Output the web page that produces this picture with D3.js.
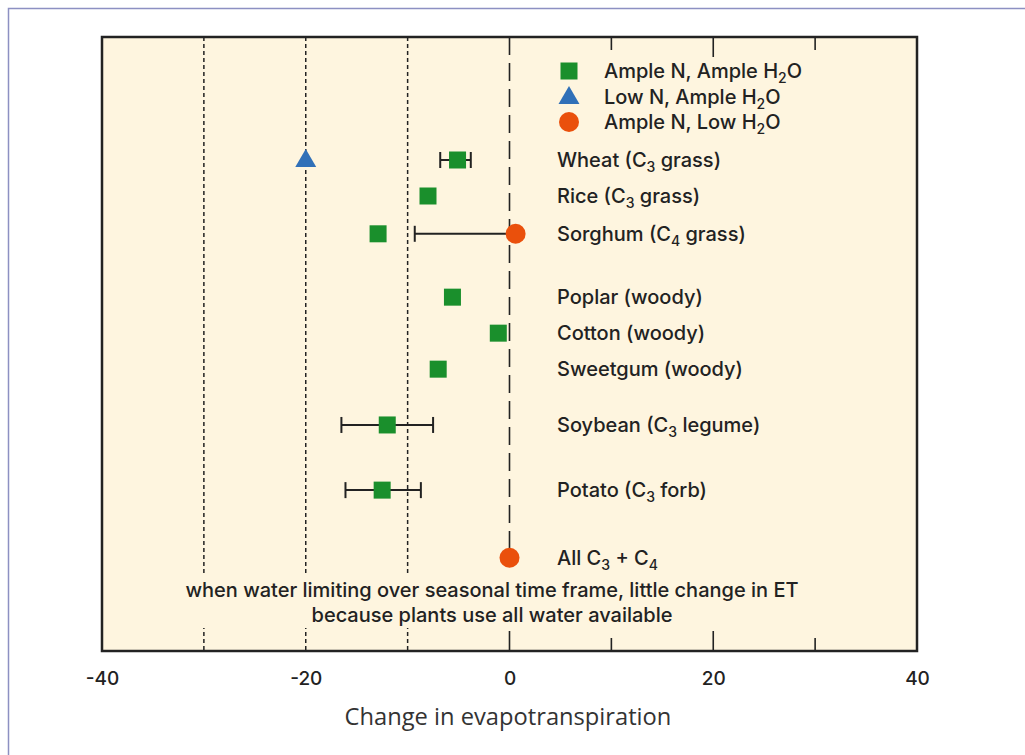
<!DOCTYPE html>
<html>
<head>
<meta charset="utf-8">
<script src="https://cdn.jsdelivr.net/npm/d3@7"></script>
<style>
  body { margin: 0; background: #fff; }
  svg { display: block; }
</style>
</head>
<body>
<svg id="chart"></svg>
<script>
// crops, top to bottom
const crops = ["Wheat", "Rice", "Sorghum", "Poplar", "Cotton", "Sweetgum", "Soybean", "Potato", "All"];
const cropLabels = [
  ["Wheat (C", "3", " grass)"],
  ["Rice (C", "3", " grass)"],
  ["Sorghum (C", "4", " grass)"],
  ["Poplar (woody)"],
  ["Cotton (woody)"],
  ["Sweetgum (woody)"],
  ["Soybean (C", "3", " legume)"],
  ["Potato (C", "3", " forb)"],
  ["All C", "3", " + C", "4"]
];

// Ample N, Ample H2O (squares)
const ampleAmple = [
  {crop: "Wheat", v: -5.1, lo: -6.8, hi: -3.8},
  {crop: "Rice", v: -8.0},
  {crop: "Sorghum", v: -12.9},
  {crop: "Poplar", v: -5.6},
  {crop: "Cotton", v: -1.1},
  {crop: "Sweetgum", v: -7.0},
  {crop: "Soybean", v: -12.0, lo: -16.5, hi: -7.5},
  {crop: "Potato", v: -12.5, lo: -16.1, hi: -8.7}
];
// Low N, Ample H2O (triangles)
const lowAmple = [
  {crop: "Wheat", v: -20}
];
// Ample N, Low H2O (circles)
const ampleLow = [
  {crop: "Sorghum", v: 0.6, lo: -9.3, hi: 0.6},
  {crop: "All", v: 0}
];

const xTicks = [-40, -20, 0, 20, 40];
const gridDotted = [-30, -20, -10];
const innerTicks = [0, 10, 20, 30];

const legendItems = ["Ample N, Ample H", "Low N, Ample H", "Ample N, Low H"];
const note = ["when water limiting over seasonal time frame, little change in ET",
              "because plants use all water available"];

// layout
const W = 1025, H = 755;
const pLeft = 102, pRight = 917, pTop = 37, pBottom = 651;
const rowSlots = [0, 1, 2.05, 3.81, 4.81, 5.81, 7.36, 9.17, 11.05];

const green = "#1a8f2c", blue = "#3070b8", orange = "#ea500c";
const bg = "#fef5df", ink = "#222";
const font = "Inter, 'Liberation Sans', Arial, sans-serif";
const fs = 20, fsSub = 14;

const svg = d3.select("#chart").attr("width", W).attr("height", H);

// page border
svg.append("path")
  .attr("d", `M8.5,${H} V8.5 H${W}`)
  .attr("fill", "none").attr("stroke", "#8d90c2").attr("stroke-width", 1.5);

const x = d3.scaleLinear().domain([-40, 40]).range([pLeft, pRight]);
const y = d3.scaleLinear().domain([0, 1]).range([160, 196]);
const yc = c => y(rowSlots[crops.indexOf(c)]);

svg.append("rect")
  .attr("x", pLeft).attr("y", pTop).attr("width", pRight - pLeft).attr("height", pBottom - pTop)
  .attr("fill", bg);

// grid
svg.selectAll(".grid").data(gridDotted).enter().append("line")
  .attr("x1", d => x(d)).attr("x2", d => x(d))
  .attr("y1", pTop).attr("y2", pBottom)
  .attr("stroke", ink).attr("stroke-width", 1.5).attr("stroke-dasharray", "4,3");

svg.append("line")
  .attr("x1", x(0)).attr("x2", x(0)).attr("y1", pTop).attr("y2", 548)
  .attr("stroke", ink).attr("stroke-width", 1.6).attr("stroke-dasharray", "18,8");

// note box covering grid
svg.append("rect")
  .attr("x", 175).attr("y", 574).attr("width", 636).attr("height", 54)
  .attr("fill", bg);

svg.selectAll(".note").data(note).enter().append("text")
  .attr("x", 492).attr("y", (d, i) => 597 + i * 25)
  .attr("text-anchor", "middle")
  .attr("font-family", font).attr("font-weight", 500).attr("font-size", fs).attr("fill", ink)
  .text(d => d);

// inner ticks top and bottom
svg.selectAll(".tb").data(innerTicks).enter().append("line")
  .attr("x1", d => x(d)).attr("x2", d => x(d))
  .attr("y1", d => pBottom - (d % 20 === 0 ? 20 : 13)).attr("y2", pBottom)
  .attr("stroke", ink).attr("stroke-width", 1.6);
svg.selectAll(".tt").data(innerTicks.filter(d => d !== 0)).enter().append("line")
  .attr("x1", d => x(d)).attr("x2", d => x(d))
  .attr("y1", pTop).attr("y2", d => pTop + (d % 20 === 0 ? 20 : 13))
  .attr("stroke", ink).attr("stroke-width", 1.6);

// frame
svg.append("rect")
  .attr("x", pLeft).attr("y", pTop).attr("width", pRight - pLeft).attr("height", pBottom - pTop)
  .attr("fill", "none").attr("stroke", ink).attr("stroke-width", 2.5);

// x axis labels
const axis = svg.append("g").attr("transform", `translate(0,${pBottom})`)
  .call(d3.axisBottom(x).tickValues(xTicks).tickSize(0).tickPadding(21).tickFormat(d3.format("d")));
axis.select(".domain").remove();
axis.selectAll("text")
  .attr("font-family", font).attr("font-weight", 500).attr("font-size", 19).attr("fill", ink)
  .text(d => d < 0 ? "-" + Math.abs(d) : d);

svg.append("text")
  .attr("x", 508).attr("y", 725).attr("text-anchor", "middle")
  .attr("font-family", "'Open Sans', 'DejaVu Sans', sans-serif").attr("font-size", 23.7)
  .attr("fill", "#333")
  .text("Change in evapotranspiration");

// error bars
const withErr = ampleAmple.concat(ampleLow).filter(d => d.lo !== undefined);
const eb = svg.selectAll(".err").data(withErr).enter().append("g");
eb.append("line")
  .attr("x1", d => x(d.lo)).attr("x2", d => x(d.hi))
  .attr("y1", d => yc(d.crop)).attr("y2", d => yc(d.crop))
  .attr("stroke", ink).attr("stroke-width", 2);
eb.append("line")
  .attr("x1", d => x(d.lo)).attr("x2", d => x(d.lo))
  .attr("y1", d => yc(d.crop) - 8).attr("y2", d => yc(d.crop) + 8)
  .attr("stroke", ink).attr("stroke-width", 2);
eb.filter(d => d.hi !== d.v).append("line")
  .attr("x1", d => x(d.hi)).attr("x2", d => x(d.hi))
  .attr("y1", d => yc(d.crop) - 8).attr("y2", d => yc(d.crop) + 8)
  .attr("stroke", ink).attr("stroke-width", 2);

// marks
const sq = 17;
const tri = d3.symbol().type(d3.symbolTriangle).size(190);
svg.selectAll(".sq").data(ampleAmple).enter().append("rect")
  .attr("x", d => x(d.v) - sq / 2).attr("y", d => yc(d.crop) - sq / 2)
  .attr("width", sq).attr("height", sq).attr("fill", green);
svg.selectAll(".tri").data(lowAmple).enter().append("path")
  .attr("d", tri)
  .attr("transform", d => `translate(${x(d.v)},${yc(d.crop) + 1})`)
  .attr("fill", blue);
svg.selectAll(".dot").data(ampleLow).enter().append("circle")
  .attr("cx", d => x(d.v)).attr("cy", d => yc(d.crop)).attr("r", 10)
  .attr("fill", orange);

// crop labels with subscripts
function addParts(t, parts) {
  parts.forEach((p, i) => {
    const sub = i % 2 === 1;
    t.append("tspan")
      .attr("font-size", sub ? fsSub : fs)
      .attr("dy", sub ? 5 : (i > 0 ? -5 : 0))
      .text(p);
  });
}
crops.forEach((c, i) => {
  const t = svg.append("text")
    .attr("x", 557).attr("y", yc(c) + 7)
    .attr("font-family", font).attr("font-weight", 500).attr("font-size", fs).attr("fill", ink);
  addParts(t, cropLabels[i]);
});

// legend
const legY = [71, 97, 122];
const lg = svg.selectAll(".leg").data(legendItems).enter().append("g")
  .attr("transform", (d, i) => `translate(569,${legY[i]})`);
lg.each(function(d, i) {
  const g = d3.select(this);
  if (i === 0) g.append("rect").attr("x", -sq / 2).attr("y", -sq / 2).attr("width", sq).attr("height", sq).attr("fill", green);
  if (i === 1) g.append("path").attr("d", tri).attr("transform", "translate(0,1)").attr("fill", blue);
  if (i === 2) g.append("circle").attr("r", 10).attr("fill", orange);
  const t = g.append("text").attr("x", 35).attr("y", 7)
    .attr("font-family", font).attr("font-weight", 500).attr("font-size", fs).attr("fill", ink);
  addParts(t, [d, "2", "O"]);
});
</script>
</body>
</html>
